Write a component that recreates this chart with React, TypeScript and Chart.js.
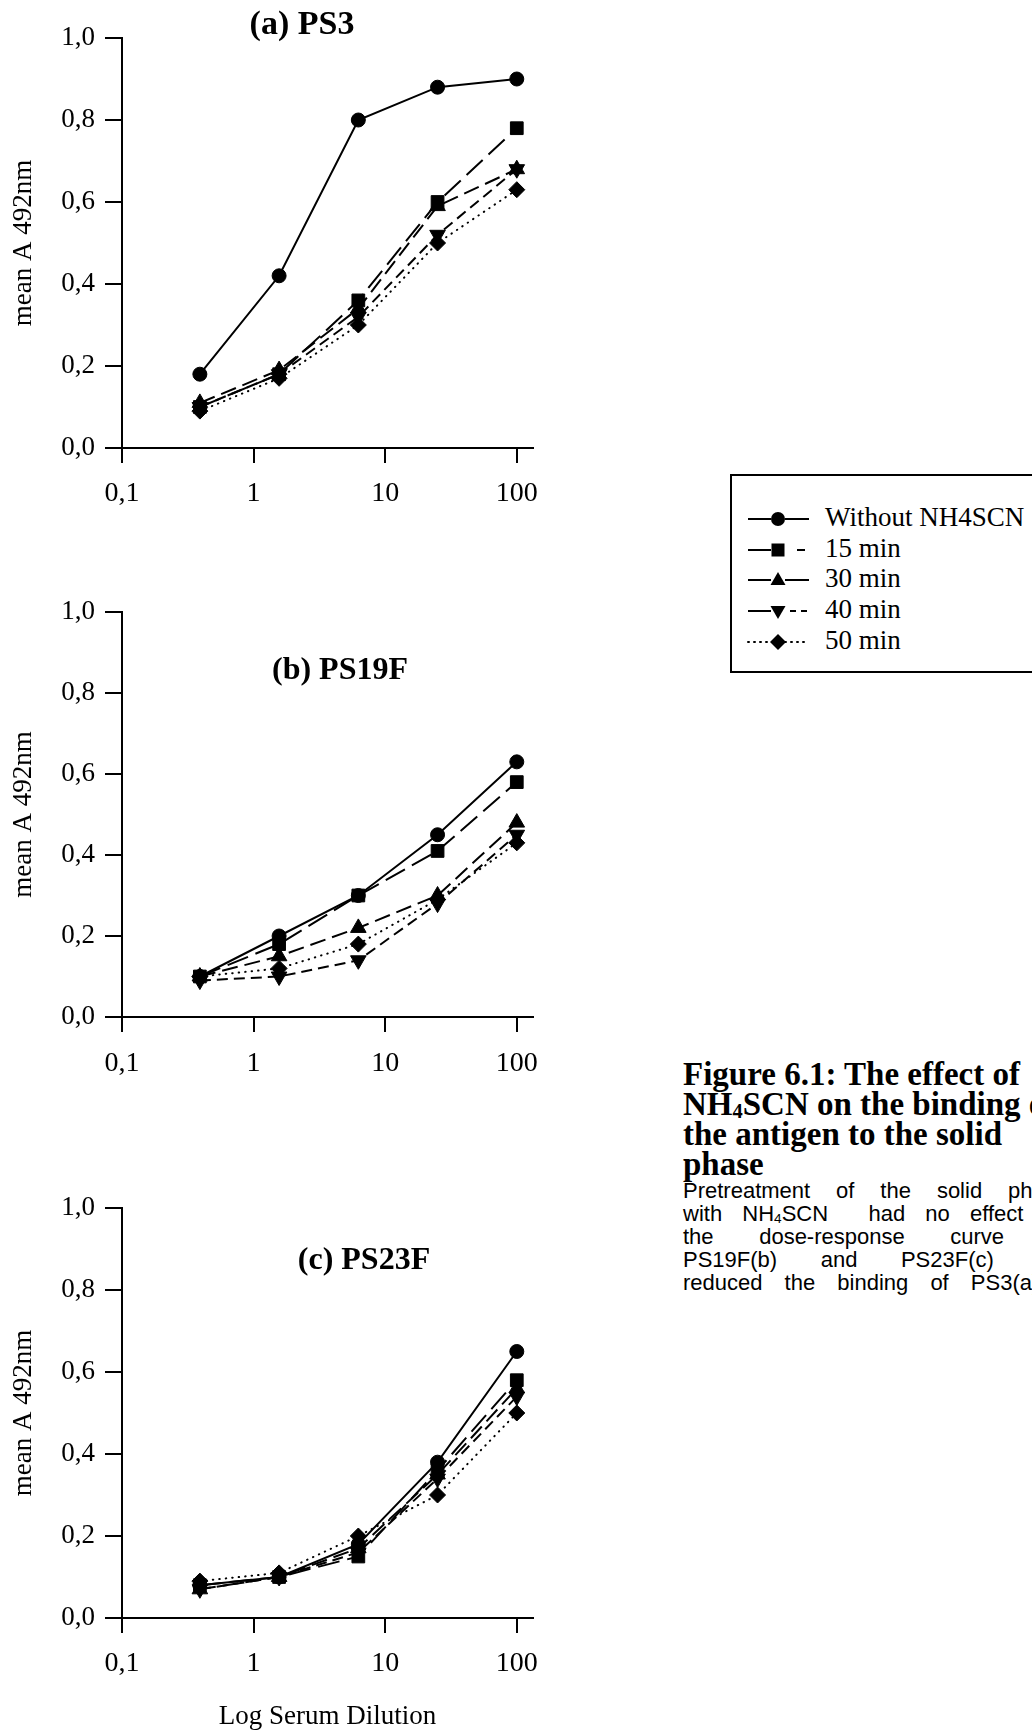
import React, { useEffect, useRef } from "react";
import { Chart, registerables } from "chart.js";

Chart.register(...registerables);

// Serum dilutions (fourfold steps) shared by all three panels
const dilutions = [0.390625, 1.5625, 6.25, 25, 100];
const seriesNames = ["Without NH4SCN", "15 min", "30 min", "40 min", "50 min"];
const xTickValues = [0.1, 1, 10, 100];
const yTickStep = 0.2;

// (a) PS3
const ps3Without = [0.18, 0.42, 0.8, 0.88, 0.9];
const ps3Min15 = [0.1, 0.18, 0.36, 0.6, 0.78];
const ps3Min30 = [0.11, 0.19, 0.34, 0.59, 0.68];
const ps3Min40 = [0.1, 0.18, 0.32, 0.52, 0.68];
const ps3Min50 = [0.09, 0.17, 0.3, 0.5, 0.63];

// (b) PS19F
const ps19Without = [0.1, 0.2, 0.3, 0.45, 0.63];
const ps19Min15 = [0.1, 0.18, 0.3, 0.41, 0.58];
const ps19Min30 = [0.1, 0.15, 0.22, 0.3, 0.48];
const ps19Min40 = [0.09, 0.1, 0.14, 0.28, 0.45];
const ps19Min50 = [0.1, 0.12, 0.18, 0.29, 0.43];

// (c) PS23F
const ps23Without = [0.08, 0.1, 0.18, 0.38, 0.65];
const ps23Min15 = [0.08, 0.1, 0.15, 0.36, 0.58];
const ps23Min30 = [0.07, 0.1, 0.17, 0.35, 0.56];
const ps23Min40 = [0.07, 0.1, 0.16, 0.34, 0.54];
const ps23Min50 = [0.09, 0.11, 0.2, 0.3, 0.5];

const SERIF = "'Liberation Serif', 'Times New Roman', serif";
const SANS = "'Liberation Sans', Arial, sans-serif";

type SeriesStyle = {
  pointStyle: string;
  radius: number;
  rotation: number;
  dash: number[];
  cap: "butt" | "round";
};

const seriesStyles: SeriesStyle[] = [
  { pointStyle: "circle", radius: 7, rotation: 0, dash: [], cap: "butt" },
  { pointStyle: "rect", radius: 9, rotation: 0, dash: [22, 8], cap: "butt" },
  { pointStyle: "triangle", radius: 9, rotation: 0, dash: [16, 7], cap: "butt" },
  { pointStyle: "triangle", radius: 9, rotation: 180, dash: [11, 6], cap: "butt" },
  { pointStyle: "rectRot", radius: 8, rotation: 0, dash: [0.5, 6], cap: "round" },
];

const formatComma = (v: number) => v.toFixed(1).replace(".", ",");

type PanelProps = {
  top: number;
  height: number;
  padTop: number;
  xAxisHeight: number;
  labelPad: number;
  showXTitle: boolean;
  series: number[][];
};

function Panel({ top, height, padTop, xAxisHeight, labelPad, showXTitle, series }: PanelProps) {
  const ref = useRef<HTMLCanvasElement>(null);

  useEffect(() => {
    const canvas = ref.current;
    if (!canvas) return;
    const datasets = series.map((values, i) => {
      const st = seriesStyles[i];
      return {
        label: seriesNames[i],
        data: values.map((y, j) => ({ x: dilutions[j], y })),
        borderColor: "#000",
        backgroundColor: "#000",
        borderWidth: 2,
        borderDash: st.dash,
        borderCapStyle: st.cap,
        pointStyle: st.pointStyle,
        pointRadius: st.radius,
        pointRotation: st.rotation,
        pointBackgroundColor: "#000",
        pointBorderColor: "#000",
        pointBorderWidth: 1,
        tension: 0,
        fill: false,
        clip: false,
      };
    });

    const chart = new Chart(canvas, {
      type: "line",
      data: { datasets: datasets as any },
      options: {
        responsive: false,
        animation: false,
        devicePixelRatio: 1,
        layout: { padding: { top: padTop, left: 0, right: 27, bottom: 0 } },
        plugins: {
          legend: { display: false },
          tooltip: { enabled: false },
          title: { display: false },
        },
        scales: {
          x: {
            type: "logarithmic",
            min: 0.1,
            max: 132.8,
            afterBuildTicks: (scale: any) => {
              scale.ticks = xTickValues.map((v) => ({ value: v }));
            },
            afterFit: (scale: any) => {
              scale.height = xAxisHeight;
            },
            ticks: {
              autoSkip: false,
              maxRotation: 0,
              minRotation: 0,
              padding: labelPad,
              color: "#000",
              font: { family: SERIF, size: 28 },
              callback: (v: any) => (Number(v) < 1 ? formatComma(Number(v)) : String(v)),
            },
            grid: {
              display: true,
              drawOnChartArea: false,
              drawTicks: true,
              tickLength: 15,
              color: "#000",
              lineWidth: 2,
            },
            border: { display: true, color: "#000", width: 2 },
            title: {
              display: showXTitle,
              text: "Log Serum Dilution",
              color: "#000",
              font: { family: SERIF, size: 27 },
              padding: { top: 0, bottom: 0 },
            },
          },
          y: {
            type: "linear",
            min: 0,
            max: 1,
            afterFit: (scale: any) => {
              scale.width = 122;
            },
            ticks: {
              stepSize: yTickStep,
              padding: 10,
              color: "#000",
              font: { family: SERIF, size: 27 },
              callback: (v: any) => formatComma(Number(v)),
            },
            grid: {
              display: true,
              drawOnChartArea: false,
              drawTicks: true,
              tickLength: 17,
              color: "#000",
              lineWidth: 2,
            },
            border: { display: true, color: "#000", width: 2 },
            title: {
              display: true,
              text: "mean A 492nm",
              color: "#000",
              font: { family: SERIF, size: 27 },
              padding: { top: 8, bottom: 0 },
            },
          },
        },
      } as any,
    });
    return () => chart.destroy();
  }, []);

  return (
    <canvas
      ref={ref}
      width={560}
      height={height}
      style={{ position: "absolute", left: 0, top, width: 560, height }}
    />
  );
}

function PanelTitle({ text, cx, top, size }: { text: string; cx: number; top: number; size: number }) {
  return (
    <div
      style={{
        position: "absolute",
        left: cx,
        top,
        transform: "translateX(-50%)",
        font: `bold ${size}px ${SERIF}`,
        lineHeight: "36px",
        whiteSpace: "nowrap",
        color: "#000",
      }}
    >
      {text}
    </div>
  );
}

function LegendMarker({ st }: { st: SeriesStyle }) {
  const cx = 33;
  const cy = 12;
  if (st.pointStyle === "circle") return <circle cx={cx} cy={cy} r={7} fill="#000" />;
  if (st.pointStyle === "rect") return <rect x={cx - 6.5} y={cy - 6.5} width={13} height={13} fill="#000" />;
  if (st.pointStyle === "rectRot")
    return <polygon points={`${cx},${cy - 8} ${cx + 8},${cy} ${cx},${cy + 8} ${cx - 8},${cy}`} fill="#000" />;
  const up = st.rotation === 0;
  const pts = up
    ? `${cx},${cy - 8} ${cx + 7.5},${cy + 5} ${cx - 7.5},${cy + 5}`
    : `${cx},${cy + 8} ${cx + 7.5},${cy - 5} ${cx - 7.5},${cy - 5}`;
  return <polygon points={pts} fill="#000" />;
}

// Dash patterns of the two halves of each legend sample
const legendRightDash = ["", "0 12 8 100", "", "0 5 6 5 6 100", "1 5"];
const legendLeftDash = ["", "", "", "", "1 5"];
const legendRows = [519, 550, 580, 611, 642];

function Legend() {
  return (
    <>
      <div
        style={{
          position: "absolute",
          left: 730,
          top: 474,
          width: 340,
          height: 199,
          border: "2px solid #000",
          boxSizing: "border-box",
        }}
      />
      {seriesNames.map((name, i) => (
        <React.Fragment key={name}>
          <svg
            width={70}
            height={24}
            style={{ position: "absolute", left: 745, top: legendRows[i] - 12 }}
          >
            <line
              x1={3}
              y1={12}
              x2={26}
              y2={12}
              stroke="#000"
              strokeWidth={2}
              strokeDasharray={legendLeftDash[i] || undefined}
              strokeLinecap={i === 4 ? "round" : "butt"}
            />
            <line
              x1={40}
              y1={12}
              x2={64}
              y2={12}
              stroke="#000"
              strokeWidth={2}
              strokeDasharray={legendRightDash[i] || undefined}
              strokeLinecap={i === 4 ? "round" : "butt"}
            />
            <LegendMarker st={seriesStyles[i]} />
          </svg>
          <div
            style={{
              position: "absolute",
              left: 825,
              top: legendRows[i] - 17,
              font: `27px ${SERIF}`,
              lineHeight: "30px",
              whiteSpace: "nowrap",
              color: "#000",
            }}
          >
            {name}
          </div>
        </React.Fragment>
      ))}
    </>
  );
}

const Sub4 = () => (
  <span style={{ fontSize: "0.62em", verticalAlign: "-0.15em", lineHeight: 0 }}>4</span>
);

function Caption() {
  const headTops = [1059, 1089, 1119, 1149];
  const heads: React.ReactNode[] = [
    "Figure 6.1: The effect of",
    <>
      NH<Sub4 />SCN on the binding of
    </>,
    "the antigen to the solid",
    "phase",
  ];
  const bodyTops = [1179, 1202, 1225, 1248, 1271];
  const body: React.ReactNode[] = [
    "Pretreatment of the solid phase",
    <>
      with NH<Sub4 />SCN{"\u00a0"} had no effect on
    </>,
    "the dose-response curve of",
    "PS19F(b) and PS23F(c) but",
    "reduced the binding of PS3(a).",
  ];
  return (
    <>
      {heads.map((h, i) => (
        <div
          key={"h" + i}
          style={{
            position: "absolute",
            left: 683,
            top: headTops[i],
            font: `bold 33px ${SERIF}`,
            lineHeight: "30px",
            whiteSpace: "nowrap",
            color: "#000",
          }}
        >
          {h}
        </div>
      ))}
      {body.map((b, i) => {
        const last = i === body.length - 1;
        return (
          <div
            key={"b" + i}
            style={{
              position: "absolute",
              left: 683,
              top: bodyTops[i],
              width: 385,
              font: `22px ${SANS}`,
              lineHeight: "23px",
              textAlign: last ? "left" : "justify",
              textAlignLast: last ? "left" : "justify",
              wordSpacing: last ? "16px" : undefined,
              whiteSpace: last ? "nowrap" : "normal",
              color: "#000",
            }}
          >
            {b}
          </div>
        );
      })}
    </>
  );
}

export default function App() {
  return (
    <div
      style={{
        position: "absolute",
        left: 0,
        top: 0,
        width: 1032,
        height: 1731,
        overflow: "hidden",
        background: "#fff",
      }}
    >
      <Panel
        top={0}
        height={518}
        padTop={38}
        xAxisHeight={70}
        labelPad={14}
        showXTitle={false}
        series={[ps3Without, ps3Min15, ps3Min30, ps3Min40, ps3Min50]}
      />
      <Panel
        top={560}
        height={527}
        padTop={52}
        xAxisHeight={70}
        labelPad={15}
        showXTitle={false}
        series={[ps19Without, ps19Min15, ps19Min30, ps19Min40, ps19Min50]}
      />
      <Panel
        top={1150}
        height={583}
        padTop={58}
        xAxisHeight={115}
        labelPad={14}
        showXTitle={true}
        series={[ps23Without, ps23Min15, ps23Min30, ps23Min40, ps23Min50]}
      />
      <PanelTitle text="(a) PS3" cx={302} top={5} size={34} />
      <PanelTitle text="(b) PS19F" cx={340} top={650} size={32} />
      <PanelTitle text="(c) PS23F" cx={364} top={1240} size={32} />
      <Legend />
      <Caption />
    </div>
  );
}
